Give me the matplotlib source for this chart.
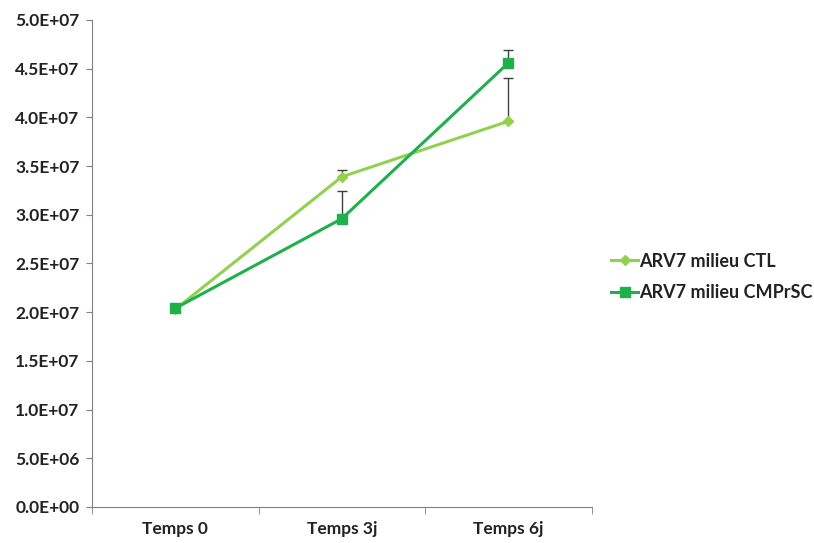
import numpy as np
import matplotlib.pyplot as plt
from matplotlib.ticker import FuncFormatter, FixedLocator

plt.rcParams['font.family'] = ['Lato', 'DejaVu Sans']

categories = ['Temps 0', 'Temps 3j', 'Temps 6j']
ctl = [2.03e7, 3.39e7, 3.96e7]
ctl_err = [0.06e6, 0.7e6, 4.45e6]
cmp = [2.04e7, 2.96e7, 4.56e7]
cmp_err = [0.05e6, 2.8e6, 1.3e6]

fig = plt.figure(figsize=(8.14, 5.43), dpi=100)
ax = fig.add_axes([0.113, 0.0663, 0.614, 0.897])

x = np.arange(len(categories))
ax.errorbar(x, ctl, yerr=[np.zeros(3), ctl_err], fmt='none', ecolor='#404040',
            elinewidth=1, capsize=3.5, capthick=1, zorder=1)
ax.errorbar(x, cmp, yerr=[np.zeros(3), cmp_err], fmt='none', ecolor='#404040',
            elinewidth=1, capsize=3.5, capthick=1, zorder=1)
ax.plot(x, ctl, color='#92D050', lw=2.2, marker='D', ms=5, label='ARV7 milieu CTL', zorder=2)
ax.plot(x, cmp, color='#1FB04C', lw=2.2, marker='s', ms=7, label='ARV7 milieu CMPrSC', zorder=3)

ax.set_xlim(-0.5, 2.5)
ax.set_ylim(0, 5e7)
ax.set_yticks(np.arange(0, 5.01e7, 5e6))


def sci(v, p):
    if v <= 0:
        return '0.0E+00'
    e = int(np.floor(np.log10(v)))
    return '%.1fE+%02d' % (v / 10**e, e)


ax.yaxis.set_major_formatter(FuncFormatter(sci))
ax.set_xticks(x)
ax.set_xticklabels(categories)
ax.xaxis.set_minor_locator(FixedLocator([-0.5, 0.5, 1.5, 2.5]))
ax.tick_params(axis='x', which='major', length=0, pad=10)
ax.tick_params(axis='x', which='minor', length=5, color='#808080', direction='out')
ax.tick_params(axis='y', length=4, color='#808080', direction='out', pad=5)
for lab in ax.get_xticklabels() + ax.get_yticklabels():
    lab.set_fontweight('bold')
    lab.set_fontsize(12.5)
    lab.set_color('#222222')

for s in ['top', 'right']:
    ax.spines[s].set_visible(False)
for s in ['left', 'bottom']:
    ax.spines[s].set_color('#808080')

fig.legend(loc='center left', bbox_to_anchor=(0.731, 0.49), frameon=False,
           prop={'weight': 'bold', 'size': 13}, handlelength=1.5, handletextpad=0.05,
           labelspacing=0.8, labelcolor='#222222')

fig.savefig('out.png', dpi=100)
